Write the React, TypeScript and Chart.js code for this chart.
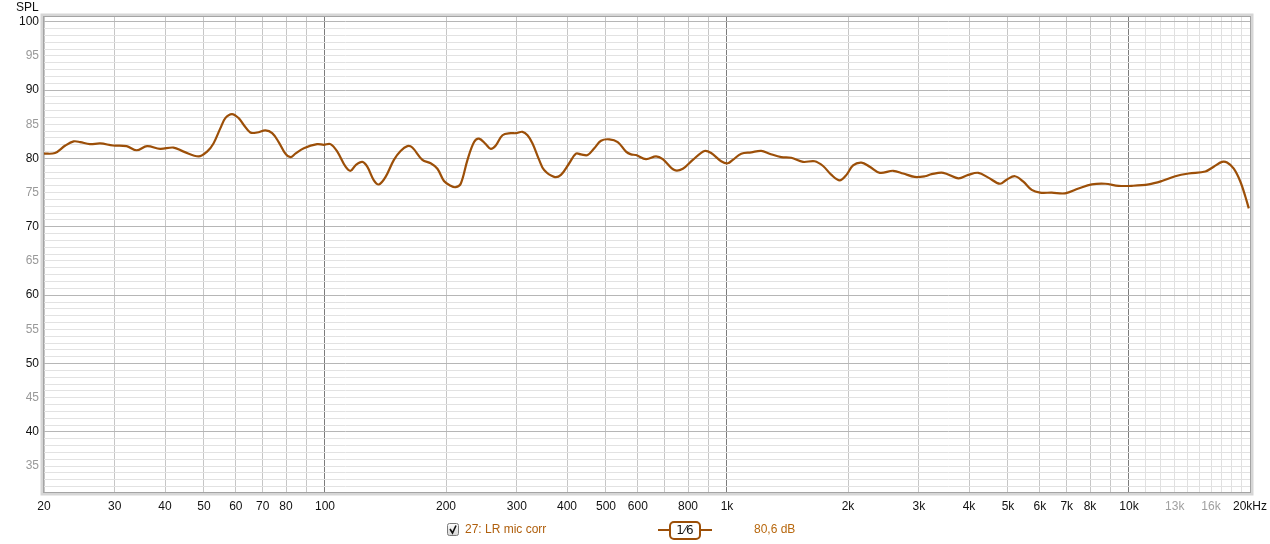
import React, { useEffect, useRef } from "react";
import { Chart, registerables } from "chart.js";

Chart.register(...registerables);

// Frequency response (Hz) and SPL (dB)
const FREQ_HZ = [
  20, 21.3, 22.6, 23.7, 24.6, 26.0, 27.6, 29.7, 32.1, 34.0, 36.1, 38.9, 42.0, 44.5, 48.5, 50.9,
  52.8, 54.9, 56.5, 58.7, 61.0, 62.8, 65.2, 67.8, 71.1, 73.9, 76.7, 79.7, 82.1, 84.4, 88.6, 95.6,
  99.3, 103.2, 107.3, 112.5, 115.8, 119.1, 123.8, 127.4, 132.3, 136.2, 141.5, 148.4, 154.2, 160.3,
  164.9, 174.7, 183.2, 190.4, 197.7, 205.4, 211.4, 217.6, 226.2, 234.9, 241.6, 251.1, 258.5, 266.0,
  276.4, 290.0, 298.5, 310.0, 319.0, 328.3, 341.0, 350.9, 371.6, 386.3, 405.1, 421.0, 433.3, 450.2,
  467.6, 486.0, 509.7, 534.8, 560.8, 577.2, 593.9, 628.9, 666.1, 692.2, 740.1, 776.6, 822.2, 879.0,
  913.3, 967.2, 1005, 1034, 1085, 1149, 1217, 1276, 1365, 1445, 1546, 1652, 1734, 1819, 1907, 1982,
  2059, 2160, 2265, 2400, 2591, 2744, 2932, 3106, 3228, 3451, 3762, 3983, 4219, 4468, 4775, 4962,
  5204, 5461, 5728, 6008, 6426, 6934, 7489, 8084, 8724, 9421, 10168, 11190, 12078, 13038, 14078,
  15486, 16248, 17040, 17540, 18226, 18930, 19480, 19862,
];

const SPL_DB = [
  80.7, 80.8, 81.9, 82.5, 82.4, 82.1, 82.2, 81.9, 81.8, 81.2, 81.8, 81.4, 81.6, 81.0, 80.3, 81.0,
  82.2, 84.4, 85.9, 86.5, 85.9, 84.9, 83.8, 83.8, 84.1, 83.7, 82.4, 80.7, 80.2, 80.7, 81.5, 82.1,
  82.0, 82.1, 81.0, 78.8, 78.2, 79.0, 79.5, 78.8, 76.8, 76.2, 77.3, 79.8, 81.1, 81.8,
  81.6, 79.8, 79.3, 78.5, 76.7, 76.0, 75.8, 76.3, 79.8, 82.4, 82.9, 82.1, 81.4, 81.9,
  83.4, 83.7, 83.7, 83.9, 83.4, 82.2, 79.8, 78.3, 77.3, 77.6, 79.3, 80.7, 80.6, 80.5,
  81.5, 82.6, 82.8, 82.4, 81.0, 80.6, 80.5, 79.9, 80.3, 79.9, 78.3, 78.5, 79.8, 81.1,
  80.8, 79.6, 79.3, 79.8, 80.7, 80.9, 81.1, 80.7, 80.2, 80.1, 79.5, 79.6, 78.9, 77.6, 76.8, 77.6,
  79.0, 79.4, 78.8, 77.9, 78.2, 77.8, 77.3, 77.4, 77.7, 77.9, 77.1, 77.6, 77.9, 77.2, 76.3, 76.9,
  77.4, 76.6, 75.4, 75.0, 75.0, 74.9, 75.6, 76.2, 76.3, 76.0, 76.0, 76.2, 76.7, 77.4, 77.8,
  78.1, 78.8, 79.5, 79.4, 78.5, 76.6, 74.4, 72.7,
];

// Axis definitions
const X_GRID_HZ = [
  20, 30, 40, 50, 60, 70, 80, 90, 100, 200, 300, 400, 500, 600, 700, 800, 900, 1000,
  2000, 3000, 4000, 5000, 6000, 7000, 8000, 9000, 10000, 11000, 12000, 13000, 14000,
  15000, 16000, 17000, 18000, 19000, 20000,
];
const X_LABEL_HZ = [20, 30, 40, 50, 60, 70, 80, 100, 200, 300, 400, 500, 600, 800, 1000, 2000, 3000, 4000, 5000, 6000, 7000, 8000, 10000, 13000, 16000, 20000];
const X_LABEL_TEXT = ["20", "30", "40", "50", "60", "70", "80", "100", "200", "300", "400", "500", "600", "800", "1k", "2k", "3k", "4k", "5k", "6k", "7k", "8k", "10k", "13k", "16k", "20kHz"];
const X_LABEL_GREY_HZ = [13000, 16000];

const Y_MIN = 31.2;
const Y_MAX = 100.7;
const Y_GRID_DB = Array.from({ length: 69 }, (_, i) => 32 + i);

const CURVE_COLOR = "#9c4f08";
const SERIES_NAME = "27: LR mic corr";
const SMOOTHING = "1⁄6";
const LEVEL_TEXT = "80,6 dB";

const FONT = "'Liberation Sans', Arial, sans-serif";

const framePlugin = {
  id: "rewFrame",
  afterDraw(chart: any) {
    const { ctx, chartArea } = chart;
    const { left, top, right, bottom } = chartArea;
    ctx.save();
    ctx.strokeStyle = "#d6d6d6";
    ctx.lineWidth = 3;
    ctx.strokeRect(left - 2, top - 2, right - left + 4, bottom - top + 4);
    ctx.strokeStyle = "#a4a4a4";
    ctx.lineWidth = 1;
    ctx.strokeRect(Math.round(left) - 0.5, Math.round(top) - 0.5, Math.round(right - left) + 1, Math.round(bottom - top) + 1);

    ctx.fillStyle = "#111";
    ctx.font = `12px ${FONT}`;
    ctx.textAlign = "left";
    ctx.textBaseline = "middle";
    ctx.fillText("SPL", 16, 8);

    const ly = 530;
    const cx = 447, cy = 523;
    const g = ctx.createLinearGradient(0, cy, 0, cy + 12);
    g.addColorStop(0, "#ffffff");
    g.addColorStop(1, "#d8d8d8");
    ctx.fillStyle = g;
    ctx.beginPath();
    ctx.roundRect(cx + 0.5, cy + 0.5, 11, 12, 2);
    ctx.fill();
    ctx.strokeStyle = "#7a7a7a";
    ctx.stroke();
    ctx.strokeStyle = "#111";
    ctx.lineWidth = 1.6;
    ctx.beginPath();
    ctx.moveTo(cx + 3, cy + 6);
    ctx.lineTo(cx + 5.5, cy + 10);
    ctx.lineTo(cx + 9, cy + 2.5);
    ctx.stroke();

    ctx.fillStyle = "#b0600e";
    ctx.font = `12px ${FONT}`;
    ctx.textAlign = "left";
    ctx.textBaseline = "middle";
    ctx.fillText(SERIES_NAME, 465, ly);

    ctx.strokeStyle = CURVE_COLOR;
    ctx.lineWidth = 2;
    ctx.beginPath();
    ctx.moveTo(658, ly);
    ctx.lineTo(712, ly);
    ctx.stroke();
    ctx.fillStyle = "#fff";
    ctx.beginPath();
    ctx.roundRect(670, 522, 30, 17, 4);
    ctx.fill();
    ctx.stroke();
    ctx.fillStyle = "#111";
    ctx.textAlign = "center";
    ctx.font = `12px 'DejaVu Sans', ${FONT}`;
    ctx.fillText(SMOOTHING, 685, ly + 1);

    ctx.fillStyle = "#b8680e";
    ctx.textAlign = "left";
    ctx.font = `12px ${FONT}`;
    ctx.fillText(LEVEL_TEXT, 754, ly);
    ctx.restore();
  },
};

export default function App() {
  const canvasRef = useRef<HTMLCanvasElement | null>(null);

  useEffect(() => {
    document.body.style.margin = "0";
    const canvas = canvasRef.current;
    if (!canvas) return;
    const chart = new Chart(canvas, {
      type: "line",
      data: {
        datasets: [
          {
            label: SERIES_NAME,
            data: FREQ_HZ.map((f, i) => ({ x: f, y: SPL_DB[i] })),
            borderColor: CURVE_COLOR,
            borderWidth: 2.2,
            pointRadius: 0,
            tension: 0.35,
            fill: false,
          },
        ],
      },
      options: {
        animation: false,
        responsive: false,
        maintainAspectRatio: false,
        layout: { padding: { left: 0, right: 20, top: 17, bottom: 0 } },
        plugins: {
          legend: { display: false },
          tooltip: { enabled: false },
        },
        scales: {
          x: {
            type: "logarithmic",
            min: 20,
            max: 20000,
            afterBuildTicks: (scale: any) => {
              scale.ticks = X_GRID_HZ.map((v) => ({ value: v }));
            },
            afterFit: (scale: any) => {
              scale.height = 52;
              scale.paddingRight = 0;
            },
            ticks: {
              autoSkip: false,
              maxRotation: 0,
              minRotation: 0,
              padding: 7,
              font: { family: FONT, size: 12 },
              color: (ctx: any) => (X_LABEL_GREY_HZ.includes(ctx.tick?.value) ? "#a0a0a0" : "#111"),
              callback: (value: any) => {
                const idx = X_LABEL_HZ.indexOf(Number(value));
                return idx >= 0 ? X_LABEL_TEXT[idx] : "";
              },
            },
            grid: {
              drawTicks: false,
              lineWidth: 1,
              color: (ctx: any) => {
                const v = ctx.tick?.value;
                if (v === 100 || v === 1000 || v === 10000) return "#7c7c7c";
                if (v > 10000) return "#e0e0e0";
                return "#c6c6c6";
              },
            },
            border: { display: false },
          },
          y: {
            type: "linear",
            min: Y_MIN,
            max: Y_MAX,
            afterBuildTicks: (scale: any) => {
              scale.ticks = Y_GRID_DB.map((v) => ({ value: v }));
            },
            afterFit: (scale: any) => {
              scale.width = 44;
            },
            ticks: {
              autoSkip: false,
              padding: 5,
              font: { family: "'Liberation Sans Narrow', 'Liberation Sans', Arial, sans-serif", size: 12 },
              color: (ctx: any) => (ctx.tick?.value % 10 === 0 ? "#111" : "#999"),
              callback: (value: any) => (Number(value) % 5 === 0 ? String(value) : ""),
            },
            grid: {
              drawTicks: false,
              lineWidth: 1,
              color: (ctx: any) => (ctx.tick?.value % 10 === 0 ? "#b6b6b6" : "#e2e2e2"),
            },
            border: { display: false },
          },
        },
      },
      plugins: [framePlugin],
    } as any);
    return () => chart.destroy();
  }, []);

  return (
    <div style={{ position: "absolute", left: 0, top: 0, width: 1270, height: 544, background: "#fff" }}>
      <canvas ref={canvasRef} width={1270} height={544} style={{ display: "block" }} />
    </div>
  );
}
